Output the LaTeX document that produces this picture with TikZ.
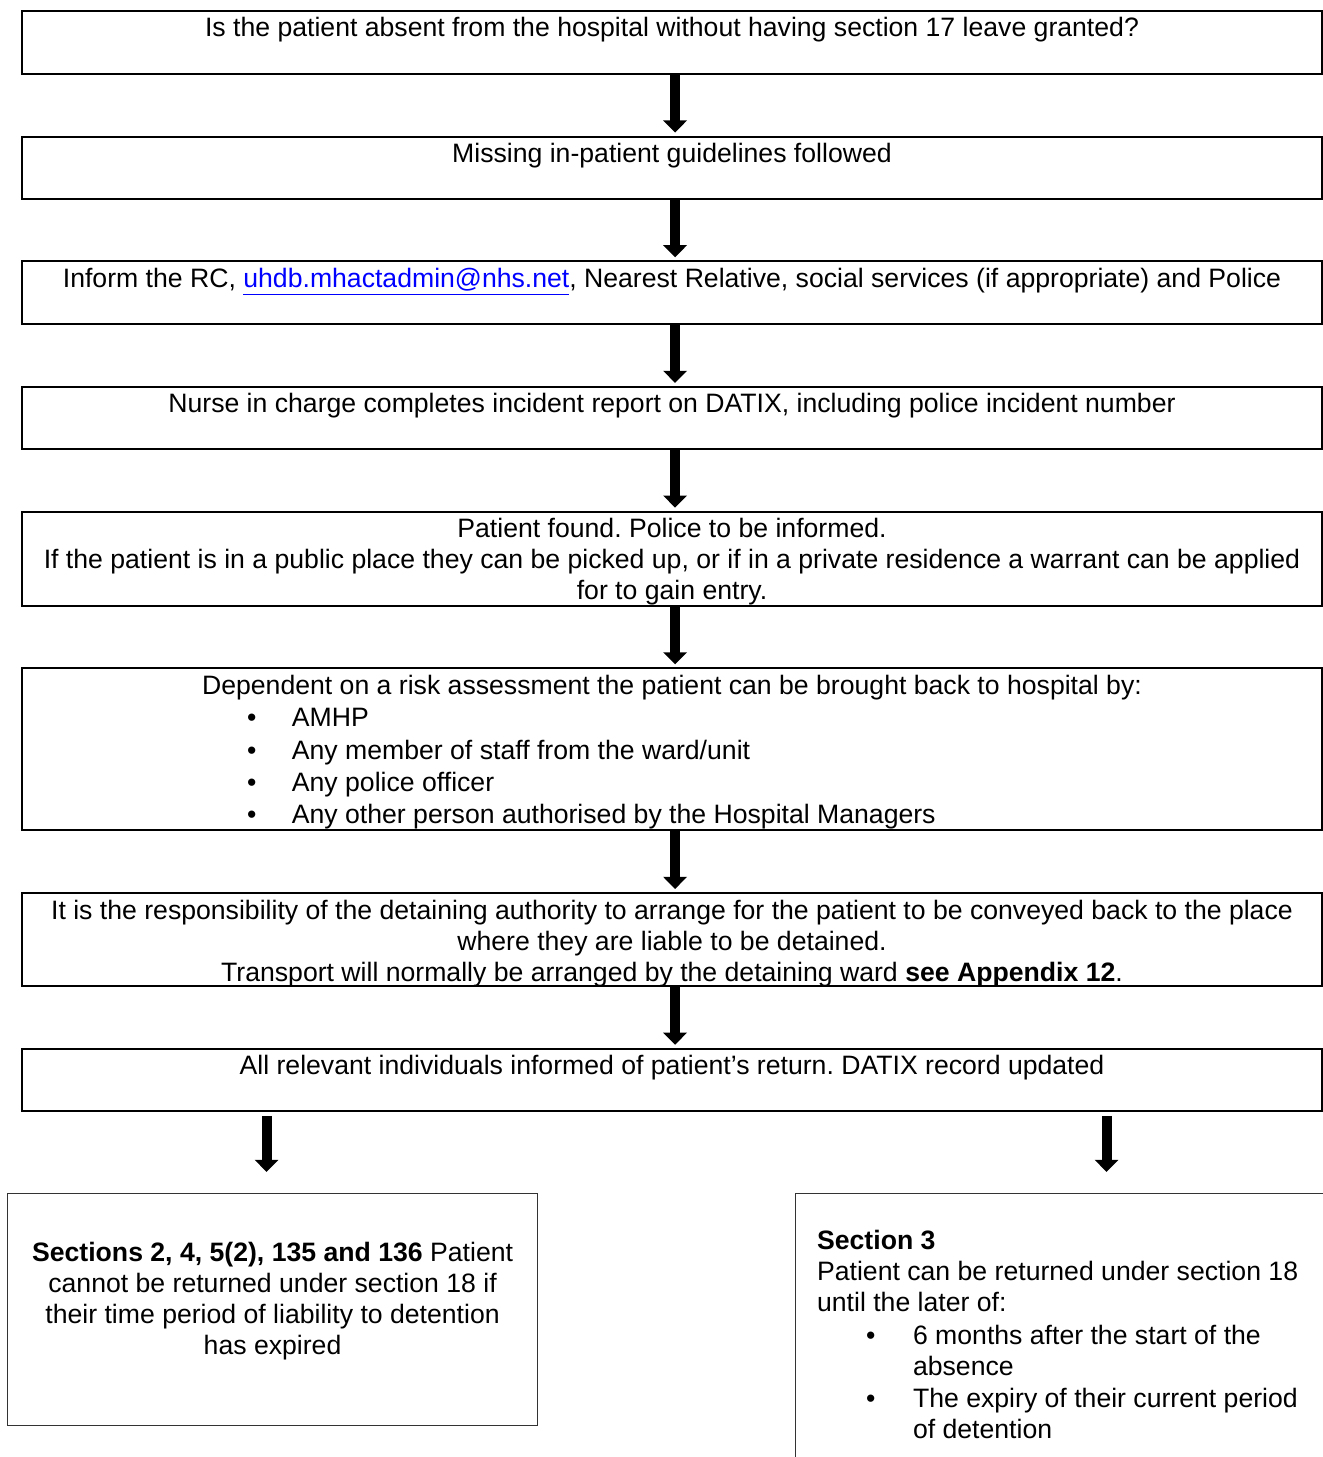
\documentclass[tikz,border=0pt]{standalone}
\usepackage{fontspec}
\setmainfont{Liberation Sans}
\usetikzlibrary{arrows.meta,positioning,calc}
\tikzset{>=Stealth}
\frenchspacing

% text block of a flow box, first line at the top
\newcommand{\toptext}[2]{\parbox[c][#1][t]{590.9pt}{\centering\rule{0pt}{11.8pt}#2}}
\newcommand{\bitem}[1]{\makebox[\linewidth][l]{\hspace*{102.3pt}\makebox[20.4pt][l]{\textbullet}#1}}

\begin{document}
\begin{tikzpicture}[
    x=0.4545pt, y=0.4545pt,
    flowbox/.style={draw, line width=0.9pt, inner sep=0pt, anchor=north, font=\fontsize{12.1}{14.1}\selectfont},
    endbox/.style={draw=black!80, line width=0.5pt, inner sep=0pt, anchor=north west, font=\fontsize{12.1}{14.1}\selectfont},
    flowarrow/.style={-{Triangle[length=5.5pt,width=10.5pt]}, line width=4.5pt, shorten >=1.4pt},
    node distance=27.6pt
  ]
    \useasboundingbox (0,0) rectangle (1323,-1457);

    \node[flowbox] (absent) at (672,-10)
      {\toptext{28.6pt}{Is the patient absent from the hospital without having section 17 leave granted?}};
    \node[flowbox, below=of absent] (guidelines)
      {\toptext{28.2pt}{Missing in-patient guidelines followed}};
    \node[flowbox, below=of guidelines] (inform)
      {\toptext{28.6pt}{Inform the RC, \textcolor{blue}{\underline{uhdb.mhactadmin@nhs.net}}, Nearest Relative, social services (if appropriate) and Police}};
    \node[flowbox, below=of inform] (incident)
      {\toptext{28.2pt}{Nurse in charge completes incident report on DATIX, including police incident number}};
    \node[flowbox, below=of incident] (found)
      {\toptext{42.7pt}{Patient found. Police to be informed.\\
        If the patient is in a public place they can be picked up, or if in a private residence a warrant can be applied\\
        for to gain entry.}};
    \node[flowbox, below=of found] (returnby)
      {\toptext{73.6pt}{Dependent on a risk assessment the patient can be brought back to hospital by:\\[0.6pt]
        \bitem{AMHP}\\[0.6pt]
        \bitem{Any member of staff from the ward/unit}\\[0.6pt]
        \bitem{Any police officer}\\[0.6pt]
        \bitem{Any other person authorised by the Hospital Managers}}};
    \node[flowbox, below=of returnby] (transport)
      {\toptext{42.3pt}{It is the responsibility of the detaining authority to arrange for the patient to be conveyed back to the place\\
        where they are liable to be detained.\\
        Transport will normally be arranged by the detaining ward \textbf{see Appendix 12}.}};
    \node[flowbox, below=of transport] (updated)
      {\toptext{28.2pt}{All relevant individuals informed of patient’s return. DATIX record updated}};

    \node[endbox] (shortsec) at (7,-1193)
      {\parbox[c][105.4pt][t]{240.9pt}{\centering\rule{0pt}{30.9pt}\textbf{Sections 2, 4, 5(2), 135 and 136} Patient\\
        cannot be returned under section 18 if\\
        their time period of liability to detention\\
        has expired}};
    \node[endbox] (section3) at (795,-1193)
      {\parbox[c][139.5pt][t]{282.7pt}{\raggedright\leftskip=9.8pt\rule{0pt}{25.5pt}\textbf{Section 3}\\
        Patient can be returned under section 18\\
        until the later of:\\[0.7pt]
        \hspace*{22.3pt}\makebox[21.3pt][l]{\textbullet}6 months after the start of the\\
        \hspace*{43.6pt}absence\\[0.7pt]
        \hspace*{22.3pt}\makebox[21.3pt][l]{\textbullet}The expiry of their current period\\
        \hspace*{43.6pt}of detention}};

    \draw[flowarrow] ([xshift=1.4pt]absent.south) -- ([xshift=1.4pt]guidelines.north);
    \draw[flowarrow] ([xshift=1.4pt]guidelines.south) -- ([xshift=1.4pt]inform.north);
    \draw[flowarrow] ([xshift=1.4pt]inform.south) -- ([xshift=1.4pt]incident.north);
    \draw[flowarrow] ([xshift=1.4pt]incident.south) -- ([xshift=1.4pt]found.north);
    \draw[flowarrow] ([xshift=1.4pt]found.south) -- ([xshift=1.4pt]returnby.north);
    \draw[flowarrow] ([xshift=1.4pt]returnby.south) -- ([xshift=1.4pt]transport.north);
    \draw[flowarrow] ([xshift=1.4pt]transport.south) -- ([xshift=1.4pt]updated.north);
    \draw[flowarrow] ($(shortsec.north |- updated.south)+(-6,-4)$) -- ($(shortsec.north)+(-6,18)$);
    \draw[flowarrow] ($(section3.north |- updated.south)+(0,-4)$) -- ($(section3.north)+(0,18)$);
  \end{tikzpicture}
\end{document}
